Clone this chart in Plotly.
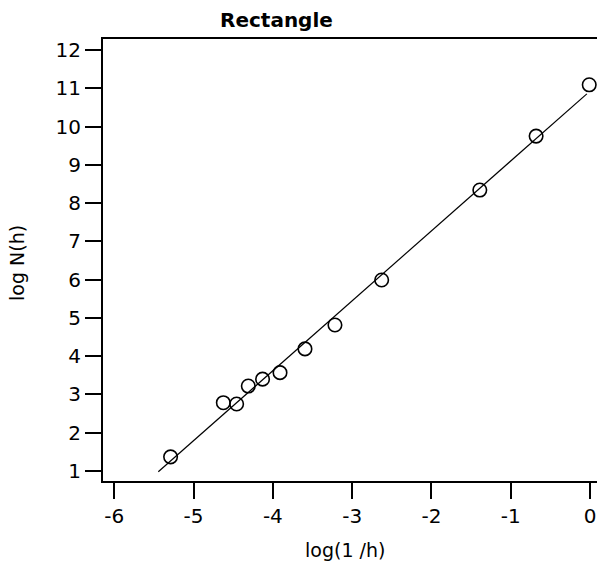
import numpy as np
import plotly.graph_objects as go

# Box-counting data: log(1/h) vs log N(h)
log_inv_h = [-5.29, -4.625, -4.457, -4.31, -4.13, -3.91, -3.595, -3.217,
             -2.628, -1.39, -0.68, -0.01]
log_N = [1.37, 2.785, 2.75, 3.22, 3.40, 3.57, 4.19, 4.815,
         5.99, 8.34, 9.75, 11.09]

# extent of the fitted line along log(1/h)
fit_x = [-5.445, -0.04]

x_ticks = [-6, -5, -4, -3, -2, -1, 0]
y_ticks = [1, 2, 3, 4, 5, 6, 7, 8, 9, 10, 11, 12]

slope, intercept = np.polyfit(log_inv_h, log_N, 1)
fit_y = [slope * v + intercept for v in fit_x]

FONT = "DejaVu Sans"

fig = go.Figure()
fig.add_trace(go.Scatter(
    x=fit_x, y=fit_y, mode="lines",
    line=dict(color="black", width=1.2),
    showlegend=False, hoverinfo="skip",
))
fig.add_trace(go.Scatter(
    x=log_inv_h, y=log_N, mode="markers",
    marker=dict(symbol="circle-open", size=13.5, color="black",
                line=dict(color="black", width=1.6)),
    showlegend=False,
))

W, H = 597, 562
L, R, T, B = 103, 0, 39, 81
pw, ph = W - L - R, H - T - B

axis_common = dict(
    showgrid=False, zeroline=False,
    showline=True, linecolor="black", linewidth=2,
    ticks="outside", ticklen=16, tickwidth=2, tickcolor="black",
    tickfont=dict(family=FONT, size=20, color="black"),
)

fig.update_xaxes(range=[-6.1425, 0.088], tickvals=x_ticks,
                 ticktext=[str(v) if v >= 0 else "-" + str(-v) for v in x_ticks],
                 mirror=True, **axis_common)
fig.update_yaxes(range=[0.739, 12.287], tickvals=y_ticks,
                 mirror=False, **axis_common)

def px_x(p):
    return (p - L) / pw

def px_y(p):
    return (H - B - p) / ph

fig.update_layout(
    width=W, height=H,
    margin=dict(l=L, r=R, t=T, b=B, pad=0),
    paper_bgcolor="white", plot_bgcolor="white",
    annotations=[
        dict(text="<b>Rectangle</b>", xref="paper", yref="paper",
             x=px_x(276), y=px_y(20), showarrow=False,
             font=dict(family=FONT, size=20, color="black"),
             xanchor="center", yanchor="middle"),
        dict(text="log(1 /h)", xref="paper", yref="paper",
             x=px_x(345), y=px_y(550), showarrow=False,
             font=dict(family=FONT, size=19, color="black"),
             xanchor="center", yanchor="middle"),
        dict(text="log N(h)", xref="paper", yref="paper",
             x=px_x(17), y=px_y(263), showarrow=False, textangle=-90,
             font=dict(family=FONT, size=19, color="black"),
             xanchor="center", yanchor="middle"),
    ],
)

fig.write_html("out.html")
